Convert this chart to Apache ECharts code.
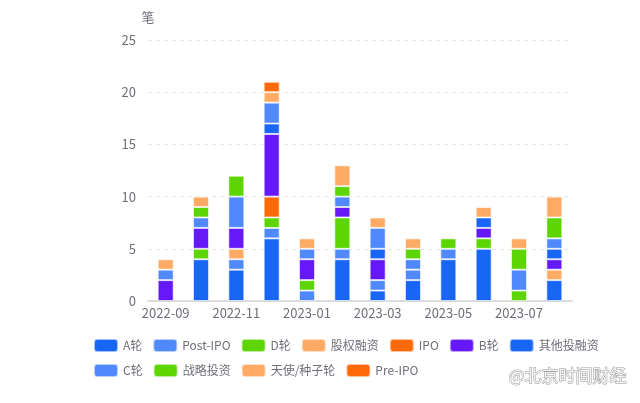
<!DOCTYPE html>
<html>
<head>
<meta charset="utf-8">
<script src="https://cdn.jsdelivr.net/npm/echarts@6/dist/echarts.min.js"></script>
<style>
  html, body { margin: 0; padding: 0; background: #fff; }
  #main { width: 640px; height: 403px; }
</style>
</head>
<body>
<div id="main"></div>
<script>
// 月份
const months = ['2022-09', '2022-10', '2022-11', '2022-12', '2023-01', '2023-02',
  '2023-03', '2023-04', '2023-05', '2023-06', '2023-07', '2023-08'];

// 各轮次笔数（按堆叠顺序）
const seriesNames = ['A轮', 'Post-IPO', 'D轮', '股权融资', 'IPO', 'B轮',
  '其他投融资', 'C轮', '战略投资', '天使/种子轮', 'Pre-IPO'];
const roundA =   [0, 4, 3, 6, 0, 4, 1, 2, 4, 5, 0, 2];
const postIPO =  [0, 0, 1, 1, 1, 1, 1, 1, 0, 0, 0, 0];
const roundD =   [0, 1, 0, 1, 1, 3, 0, 0, 0, 1, 1, 0];
const equity =   [0, 0, 1, 0, 0, 0, 0, 0, 0, 0, 0, 1];
const ipo =      [0, 0, 0, 2, 0, 0, 0, 0, 0, 0, 0, 0];
const roundB =   [2, 2, 2, 6, 2, 1, 2, 0, 0, 1, 0, 1];
const other =    [0, 0, 0, 1, 0, 0, 1, 0, 0, 1, 0, 1];
const roundC =   [1, 1, 3, 2, 1, 1, 2, 1, 1, 0, 2, 1];
const strategic = [0, 1, 2, 0, 0, 1, 0, 1, 1, 0, 2, 2];
const angel =    [1, 1, 0, 1, 1, 2, 1, 1, 0, 1, 1, 2];
const preIPO =   [0, 0, 0, 1, 0, 0, 0, 0, 0, 0, 0, 0];

const yTicks = [0, 5, 10, 15, 20, 25];

const allData = [roundA, postIPO, roundD, equity, ipo, roundB, other, roundC, strategic, angel, preIPO];
// 6色循环
const palette = ['#1965f5', '#5089fb', '#5cd500', '#ffab66', '#ff6a08', '#6519fb'];

const font = 'Noto Sans CJK SC';
const chart = echarts.init(document.getElementById('main'), null, { renderer: 'canvas' });

chart.setOption({
  animation: false,
  color: palette,
  textStyle: { fontFamily: font },
  grid: { left: 148, right: 68, top: 40, bottom: 102 },
  legend: {
    left: 88,
    width: 530,
    top: 333,
    itemWidth: 24,
    itemHeight: 13,
    itemGap: 10,
    icon: 'roundRect',
    textStyle: { color: '#6e7079', fontSize: 12, lineHeight: 15, fontFamily: font },
    data: seriesNames
  },
  xAxis: {
    type: 'category',
    data: months,
    axisLine: { lineStyle: { color: '#dcdcdc', width: 2 } },
    axisTick: { show: false },
    axisLabel: { interval: 1, color: '#6e7079', fontSize: 13, margin: 6 }
  },
  yAxis: {
    type: 'value',
    min: yTicks[0],
    max: yTicks[yTicks.length - 1],
    interval: 5,
    name: '笔',
    nameGap: 16,
    nameTextStyle: { color: '#6e7079', fontSize: 13, align: 'center' },
    axisLabel: { color: '#6e7079', fontSize: 13, margin: 12 },
    splitLine: { lineStyle: { color: '#e6e6e6', type: [4, 4] } }
  },
  graphic: [{
    type: 'text',
    right: 13,
    top: 367,
    style: {
      text: '@北京时间财经',
      fontSize: 17,
      fontFamily: font,
      fill: '#f4f4f4',
      stroke: '#9a9a9a',
      lineWidth: 1
    }
  }],
  series: seriesNames.map((name, i) => ({
    name,
    type: 'bar',
    stack: 'total',
    barWidth: 16,
    itemStyle: { borderColor: 'rgba(255,255,255,0.6)', borderWidth: 1 },
    data: allData[i].map(v => (v === 0 ? '-' : v))
  }))
});
</script>
</body>
</html>
